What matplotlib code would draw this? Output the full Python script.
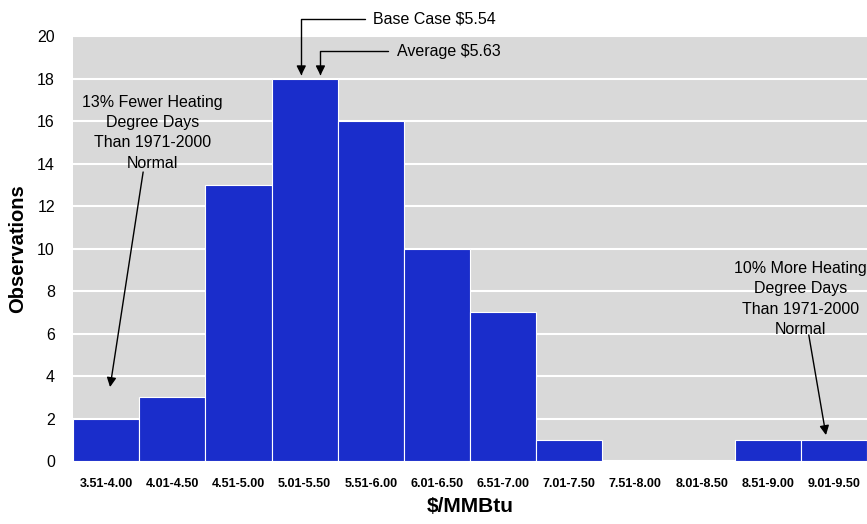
import matplotlib.pyplot as plt
import numpy as np

# price bins ($/MMBtu) and number of observations in each
bins = ['3.51-4.00', '4.01-4.50', '4.51-5.00', '5.01-5.50', '5.51-6.00', '6.01-6.50',
        '6.51-7.00', '7.01-7.50', '7.51-8.00', '8.01-8.50', '8.51-9.00', '9.01-9.50']
observations = [2, 3, 13, 18, 16, 10, 7, 1, 0, 0, 1, 1]
yticks = [0, 2, 4, 6, 8, 10, 12, 14, 16, 18, 20]

plt.rcParams['font.family'] = ['Liberation Sans', 'DejaVu Sans']

fig = plt.figure(figsize=(8.67, 5.24), dpi=100)
ax = fig.add_axes([0.0842, 0.1202, 0.9158, 0.8111])

x = np.arange(len(bins))
ax.bar(x, observations, width=1.0, color='#1a2dcb', edgecolor='white', linewidth=0.8, zorder=3)

ax.set_facecolor('#d9d9d9')
ax.set_xlim(-0.5, len(bins) - 0.5)
ax.set_ylim(0, 20)
ax.set_yticks(yticks)
ax.yaxis.grid(True, color='white', linewidth=1.5, zorder=0)
ax.set_axisbelow(True)
for s in ax.spines.values():
    s.set_visible(False)
ax.tick_params(axis='y', length=0, pad=13, labelsize=11.5)
ax.tick_params(axis='x', length=0, pad=12)
ax.set_xticks(x)
ax.set_xticklabels(bins, fontweight='bold', fontsize=9)

ax.set_xlabel('$/MMBtu', fontweight='bold', fontsize=15, labelpad=5)
ax.set_ylabel('Observations', fontweight='bold', fontsize=14.5)
ax.yaxis.set_label_coords(-0.058, 0.5)

elbow = dict(arrowstyle='-|>', color='black', lw=1, mutation_scale=14,
             connectionstyle='angle,angleA=0,angleB=90,rad=0', shrinkA=4, shrinkB=0)
ax.annotate('Base Case $5.54', xy=(2.95, 18.15), xytext=(4.04, 20.8),
            ha='left', va='center', fontsize=11.5, arrowprops=elbow, annotation_clip=False)
ax.annotate('Average $5.63', xy=(3.24, 18.15), xytext=(4.39, 19.29),
            ha='left', va='center', fontsize=11.5, arrowprops=elbow, annotation_clip=False)

straight = dict(arrowstyle='-|>', color='black', lw=1, mutation_scale=14, shrinkA=0, shrinkB=0)
ax.text(0.70, 15.45, '13% Fewer Heating\nDegree Days\nThan 1971-2000\nNormal',
        ha='center', va='center', fontsize=11.5, linespacing=1.45, zorder=5)
ax.annotate('', xy=(0.06, 3.48), xytext=(0.56, 13.6), arrowprops=straight)
ax.text(10.5, 7.62, '10% More Heating\nDegree Days\nThan 1971-2000\nNormal',
        ha='center', va='center', fontsize=11.5, linespacing=1.45, zorder=5)
ax.annotate('', xy=(10.88, 1.22), xytext=(10.62, 5.93), arrowprops=straight)

fig.savefig('out.png', dpi=100)
